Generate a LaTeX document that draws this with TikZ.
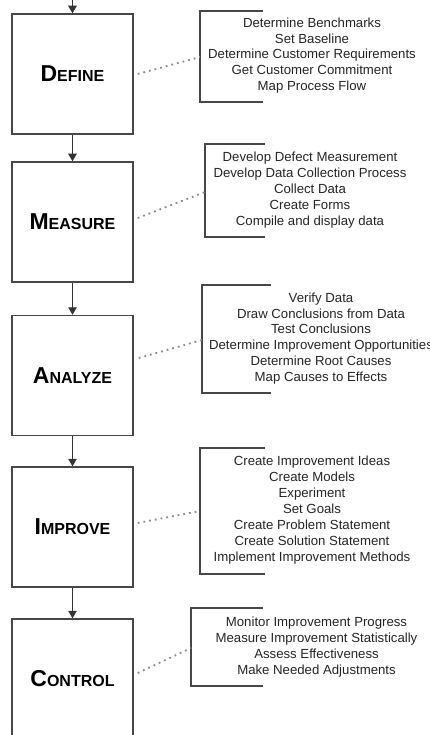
\documentclass[tikz,border=0pt]{standalone}
\usepackage{fontspec}
\setmainfont{Liberation Sans}
\usetikzlibrary{arrows.meta,calc}

% big first letter, rest in smaller capitals
\newcommand{\phase}[2]{{\fontsize{23}{23}\selectfont #1}{\fontsize{16}{16}\selectfont #2}}

\begin{document}
\begin{tikzpicture}[x=1pt, y=-1pt,
  phasebox/.style={draw=black!72, line width=1.5pt, minimum width=121pt, minimum height=120pt, inner sep=0pt, font=\bfseries},
  flow/.style={draw=black!80, line width=1.2pt, -{Triangle[width=8.5pt,length=7.5pt]}},
  tasks/.style={align=center, font=\fontsize{13.2}{15.9}\selectfont, text=black!85, inner sep=0pt},
  bracket/.style={draw=black!72, line width=1.5pt},
  dotline/.style={draw=black!45, line width=1.8pt, dash pattern=on 1.8pt off 4pt}]

\useasboundingbox (0,0) rectangle (430,735);
\clip (0,0) rectangle (430,735);
\fill[white] (0,0) rectangle (430,735);

% Phase boxes
\node[phasebox] (define)  at (72.5,74)    {\phase{D}{EFINE}};
\node[phasebox] (measure) at (72.5,222)   {\phase{M}{EASURE}};
\node[phasebox] (analyze) at (72.5,375.5) {\phase{A}{NALYZE}};
\node[phasebox] (improve) at (72.5,527)   {\phase{I}{MPROVE}};
\node[phasebox] (control) at (72.5,679)   {\phase{C}{ONTROL}};

% Flow arrows
\coordinate (entry) at (72.5,0);
\draw[flow] (entry) -- (define);
\draw[flow] (define) -- (measure);
\draw[flow] (measure) -- (analyze);
\draw[flow] (analyze) -- (improve);
\draw[flow] (improve) -- (control);

% Define tasks
\draw[bracket] (263,11) -| (200,102) -- (263,102);
\coordinate (defineTip) at (200,57);
\node[tasks] (defineList) at (312,55.5) {Determine Benchmarks\\Set Baseline\\Determine Customer Requirements\\Get Customer Commitment\\Map Process Flow};
\draw[dotline] ($(define.east)+(4,0)$) -- (defineTip);

% Measure tasks
\draw[bracket] (265,144) -| (205,237) -- (265,237);
\coordinate (measureTip) at (205,192);
\node[tasks] (measureList) at (310,190) {Develop Defect Measurement\\Develop Data Collection Process\\Collect Data\\Create Forms\\Compile and display data};
\draw[dotline] ($(measure.east)+(4,-4)$) -- (measureTip);

% Analyze tasks
\draw[bracket] (271,285) -| (202,393) -- (271,393);
\coordinate (analyzeTip) at (202,340);
\node[tasks] (analyzeList) at (321,338.5) {Verify Data\\Draw Conclusions from Data\\Test Conclusions\\Determine Improvement Opportunities\\Determine Root Causes\\Map Causes to Effects};
\draw[dotline] ($(analyze.east)+(5,-17.5)$) -- (analyzeTip);

% Improve tasks
\draw[bracket] (265,448) -| (200,574) -- (265,574);
\coordinate (improveTip) at (200,511);
\node[tasks] (improveList) at (312,510) {Create Improvement Ideas\\Create Models\\Experiment\\Set Goals\\Create Problem Statement\\Create Solution Statement\\Implement Improvement Methods};
\draw[dotline] ($(improve.east)+(4,-4)$) -- (improveTip);

% Control tasks
\draw[bracket] (263,608) -| (191,686) -- (263,686);
\coordinate (controlTip) at (191,648);
\node[tasks] (controlList) at (316.5,647) {Monitor Improvement Progress\\Measure Improvement Statistically\\Assess Effectiveness\\Make Needed Adjustments};
\draw[dotline] ($(control.east)+(4,-6)$) -- (controlTip);

\end{tikzpicture}
\end{document}
